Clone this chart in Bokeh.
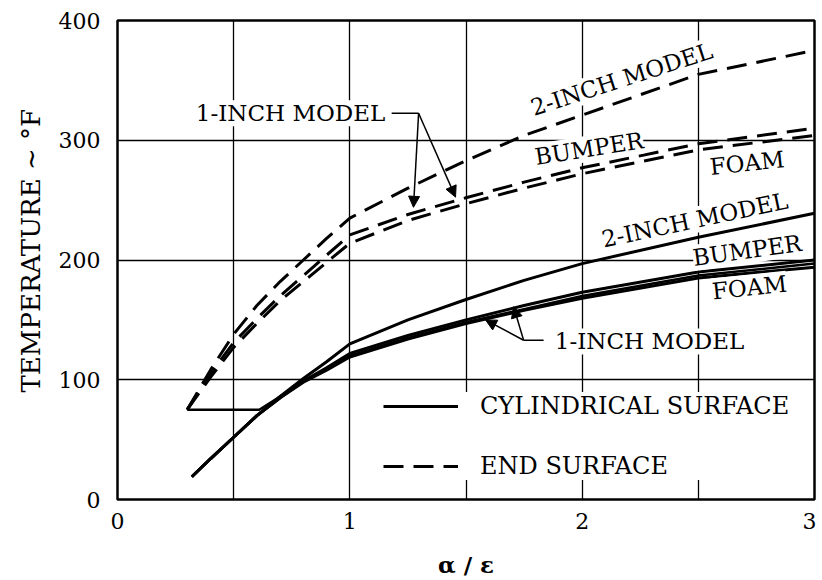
from bokeh.plotting import figure
from bokeh.models import Label, Arrow, NormalHead, FixedTicker, Legend, LegendItem, Title
from bokeh.embed import file_html
from bokeh.resources import INLINE

# ---- data ----
x_ticks = [0, 1, 2, 3]
y_ticks = [0, 100, 200, 300, 400]
x_grid = [0.5, 1.0, 1.5, 2.0, 2.5]
y_grid = [100, 200, 300]

# cylindrical surface (solid)
x_cyl = [0.32, 0.4, 0.5, 0.6, 0.7, 0.8, 0.9, 1.0, 1.25, 1.5, 1.75, 2.0, 2.5, 3.0]
t_cyl_2in = [19, 34, 52, 70, 86, 101, 115, 130, 150, 167, 183, 197, 219, 239]
t_cyl_bumper = [19, 34, 52, 70, 85, 99, 110, 122, 137, 150, 162, 173, 190, 200]
t_cyl_foam = [19, 34, 52, 70, 85, 98, 108, 119, 134, 147, 158, 168, 185, 194]
x_cyl_1in = [0.3, 0.61, 0.7, 0.8, 0.9, 1.0, 1.25, 1.5, 1.75, 2.0, 2.5, 3.0]
t_cyl_1in = [75, 75, 86, 99, 109, 120, 135, 148, 159, 170, 187, 197]

# end surface (dashed)
x_end = [0.3, 0.4, 0.5, 0.6, 0.7, 0.8, 0.9, 1.0, 1.25, 1.5, 1.75, 2.0, 2.5, 3.0]
t_end_2in = [75, 108, 138, 162, 182, 200, 218, 235, 260, 283, 304, 321, 355, 375]
t_end_bumper = [75, 105, 131, 151, 170, 187, 204, 221, 238, 252, 265, 277, 297, 310]
t_end_foam = [75, 102, 127, 147, 166, 182, 198, 214, 233, 247, 260, 272, 292, 304]

# curve labels: text, x, y, angle(deg)
lab_text = ["2-INCH MODEL", "BUMPER", "FOAM", "2-INCH  MODEL", "BUMPER", "FOAM",
            "1-INCH MODEL", "1-INCH MODEL"]
lab_x = [2.17, 2.03, 2.71, 2.50, 2.71, 2.72, 0.745, 2.29]
lab_y = [351, 293, 281, 234, 208, 177, 322.5, 132]
lab_ang = [18, 9, 6, 12, 8, 6, 0, 0]

ytitle_text = "TEMPERATURE ~ °F"
xtitle_text = "α / ε"

# leader lines and arrows for "1-INCH MODEL"
lead1_x = [1.18, 1.296]
lead1_y = [322.5, 322.5]
arr1_x_end = [1.274, 1.455]
arr1_y_end = [244, 252.5]
lead2_x = [1.834, 1.748]
lead2_y = [133, 133]
arr2_x_end = [1.584, 1.705]
arr2_y_end = [150, 161]

FONT = "DejaVu Serif"

p = figure(width=816, height=580, x_range=(0, 3), y_range=(0, 400),
           output_backend="svg", toolbar_location=None,
           min_border_left=117, min_border_right=2, min_border_top=20,
           min_border_bottom=80)

p.background_fill_color = "white"
p.border_fill_color = "white"
p.outline_line_color = "black"
p.outline_line_width = 2.5

p.xaxis.ticker = FixedTicker(ticks=x_ticks)
p.yaxis.ticker = FixedTicker(ticks=y_ticks)
p.xgrid.ticker = FixedTicker(ticks=x_grid)
p.ygrid.ticker = FixedTicker(ticks=y_grid)
for g in (p.xgrid, p.ygrid):
    g.grid_line_color = "black"
    g.grid_line_width = 1.3

for ax in (p.xaxis, p.yaxis):
    ax.axis_line_color = None
    ax.major_tick_line_color = None
    ax.minor_tick_line_color = None
    ax.major_tick_in = 0
    ax.major_tick_out = 0
    ax.minor_tick_in = 0
    ax.minor_tick_out = 0
    ax.major_label_text_font = FONT
    ax.major_label_text_font_size = "22px"
    ax.major_label_text_color = "black"
    ax.axis_label_text_color = "black"

p.yaxis.major_label_standoff = 17
p.xaxis.major_label_standoff = 13
p.xaxis.axis_label = xtitle_text
p.xaxis.axis_label_text_font = FONT
p.xaxis.axis_label_text_font_size = "23px"
p.xaxis.axis_label_text_font_style = "bold"
p.xaxis.axis_label_standoff = 19

ytitle = Title(text=ytitle_text, align="left", offset=107, standoff=19,
               text_font=FONT, text_font_size="26px", text_font_style="normal",
               text_color="black")
p.add_layout(ytitle, "left")

LW = 3
DASH = "20 10"
r_cyl = p.line(x_cyl, t_cyl_2in, line_color="black", line_width=LW)
p.line(x_cyl, t_cyl_bumper, line_color="black", line_width=LW)
p.line(x_cyl, t_cyl_foam, line_color="black", line_width=LW)
p.line(x_cyl_1in, t_cyl_1in, line_color="black", line_width=2.5)

r_end = p.line(x_end, t_end_2in, line_color="black", line_width=LW, line_dash=DASH)
p.line(x_end, t_end_bumper, line_color="black", line_width=LW, line_dash=DASH)
p.line(x_end, t_end_foam, line_color="black", line_width=LW, line_dash=DASH)

# leaders + arrows
p.line(lead1_x, lead1_y, line_color="black", line_width=1.5)
p.line(lead2_x, lead2_y, line_color="black", line_width=1.5)
for xe, ye in zip(arr1_x_end, arr1_y_end):
    p.add_layout(Arrow(end=NormalHead(size=11, fill_color="black", line_color="black"),
                       x_start=lead1_x[1], y_start=lead1_y[1], x_end=xe, y_end=ye,
                       line_color="black", line_width=1.5))
for xe, ye in zip(arr2_x_end, arr2_y_end):
    p.add_layout(Arrow(end=NormalHead(size=11, fill_color="black", line_color="black"),
                       x_start=lead2_x[1], y_start=lead2_y[1], x_end=xe, y_end=ye,
                       line_color="black", line_width=1.5))

for t, x, y, a in zip(lab_text, lab_x, lab_y, lab_ang):
    p.add_layout(Label(x=x, y=y, text=t, angle=a, angle_units="deg",
                       text_align="center", text_baseline="middle",
                       text_font=FONT, text_font_size="23px", text_color="black",
                       background_fill_color="white", background_fill_alpha=1.0))

legend = Legend(items=[LegendItem(label="CYLINDRICAL SURFACE", renderers=[r_cyl]),
                       LegendItem(label="END SURFACE", renderers=[r_end])],
                location=(266, 19), orientation="vertical")
legend.border_line_color = None
legend.background_fill_color = "white"
legend.background_fill_alpha = 1.0
legend.label_text_font = FONT
legend.label_text_font_size = "24px"
legend.label_text_color = "black"
legend.label_text_baseline = "middle"
legend.glyph_width = 75
legend.glyph_height = 26
legend.label_height = 26
legend.label_standoff = 22
legend.spacing = 32
legend.padding = 4
legend.margin = 0
p.add_layout(legend, "center")

open("out.html", "w").write(file_html(p, INLINE))
